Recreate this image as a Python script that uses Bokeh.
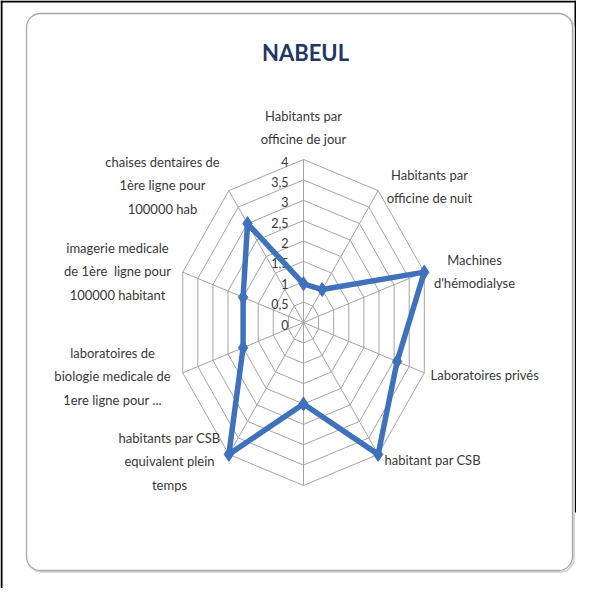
import math
from bokeh.plotting import figure
from bokeh.models import Range1d, ColumnDataSource
from bokeh.core.properties import value
from bokeh.embed import file_html
from bokeh.resources import INLINE

# ---------------- data ----------------
title = "NABEUL"
categories = [
    "Habitants par\nofficine de jour",
    "Habitants par\nofficine de nuit",
    "Machines\nd'hémodialyse",
    "Laboratoires privés",
    "habitant par CSB",
    "",
    "habitants par CSB\nequivalent plein\ntemps",
    "laboratoires de\nbiologie medicale de\n1ere ligne pour ...",
    "imagerie medicale\nde 1ère\u00a0 ligne pour\n100000 habitant",
    "chaises dentaires de\n1ère ligne pour\n100000 hab",
]
values = [0.95, 1.0, 4.0, 3.1, 4.0, 2.0, 4.0, 2.0, 2.0, 3.0]
tick_values = [0, 0.5, 1, 1.5, 2, 2.5, 3, 3.5, 4]
tick_labels = ["0", "0,5", "1", "1,5", "2", "2,5", "3", "3,5", "4"]
vmax = 4.0

# ---------------- layout ----------------
W, H = 576, 588
FONT = "Lato"
LABEL_COLOR = "#383838"
GRID_COLOR = "#a4a4a4"
SERIES_COLOR = "#3f71bd"

def px(x):          # page x -> data x
    return x - 8

def py(y):          # page y -> data y
    return H - (y - 8)

cx, cy = px(311), py(330)
rx, ry = 127.0, 163.0
n = len(categories)
angles = [2 * math.pi * i / n for i in range(n)]

def pt(v, a):
    return cx + rx * (v / vmax) * math.sin(a), cy + ry * (v / vmax) * math.cos(a)

p = figure(width=W, height=H, output_backend="svg", toolbar_location=None,
           x_range=Range1d(0, W), y_range=Range1d(0, H),
           x_axis_type=None, y_axis_type=None, min_border=0,
           background_fill_color="white", border_fill_color="white")
p.outline_line_color = None
p.xgrid.visible = False
p.ygrid.visible = False

# outer black frame (left, top, right part)
p.segment(x0=[1, 0, W - 1], y0=[0, H - 1, H], x1=[1, W, W - 1], y1=[H, H - 1, py(520)],
          line_color="black", line_width=2)

# rounded chart-area box
p.rect(x=[(px(34) + px(580)) / 2 + 1.5], y=[(py(21) + py(578)) / 2 - 1.5],
       width=[546], height=[557], border_radius=14,
       fill_color=None, line_color="#d6d6d6", line_width=2)
p.rect(x=[(px(34) + px(580)) / 2], y=[(py(21) + py(578)) / 2],
       width=[546], height=[557], border_radius=14,
       fill_color="white", line_color="#a8a8a8", line_width=1.3)

# grid rings
for tv in tick_values[1:]:
    xs, ys = zip(*[pt(tv, a) for a in angles + [angles[0]]])
    p.line(list(xs), list(ys), line_color=GRID_COLOR, line_width=1)
# spokes
for a in angles:
    x1, y1 = pt(vmax, a)
    p.line([cx, x1], [cy, y1], line_color=GRID_COLOR, line_width=1)

# tick labels
p.text(x=[cx - 15] * len(tick_values),
       y=[cy + ry * tv / vmax - 2 for tv in tick_values],
       text=tick_labels, text_align="right", text_baseline="middle",
       text_font=value(FONT), text_font_size=value("12.5px"), text_color=LABEL_COLOR)

# series
pts = [pt(v, a) for v, a in zip(values, angles)]
xs = [q[0] for q in pts] + [pts[0][0]]
ys = [q[1] for q in pts] + [pts[0][1]]
p.line(xs, ys, line_color=SERIES_COLOR, line_width=5.5, line_join="round")
p.scatter([q[0] for q in pts], [q[1] for q in pts], marker="diamond", size=14,
          fill_color=SERIES_COLOR, line_color=SERIES_COLOR)

# category labels: (page x, page y of first line, align)
label_layout = [
    (311, 123, "center"),
    (437, 182, "center"),
    (482, 267, "center"),
    (438, 382, "left"),
    (392, 467, "left"),
    (311, 520, "center"),
    (177, 445, "center"),
    (120, 360, "center"),
    (125, 255, "center"),
    (170, 169, "center"),
]
LINE_H = 23.5
tx, ty, tt, ta = [], [], [], []
for lab, (lx, ly, al) in zip(categories, label_layout):
    for k, line in enumerate(lab.split("\n")):
        if not line:
            continue
        tx.append(px(lx)); ty.append(py(ly + k * LINE_H)); tt.append(line); ta.append(al)
src = ColumnDataSource(dict(x=tx, y=ty, text=tt, align=ta))
p.text(x="x", y="y", text="text", text_align="align", text_baseline="middle",
       source=src, text_font=value(FONT), text_font_size=value("13px"),
       text_color=LABEL_COLOR)

# title
p.text(x=[px(313)], y=[py(60)], text=[title], text_align="center", text_baseline="middle",
       text_font=value(FONT), text_font_style="bold", text_font_size=value("22px"),
       text_color="#1f3864")

open("out.html", "w").write(file_html(p, INLINE))
